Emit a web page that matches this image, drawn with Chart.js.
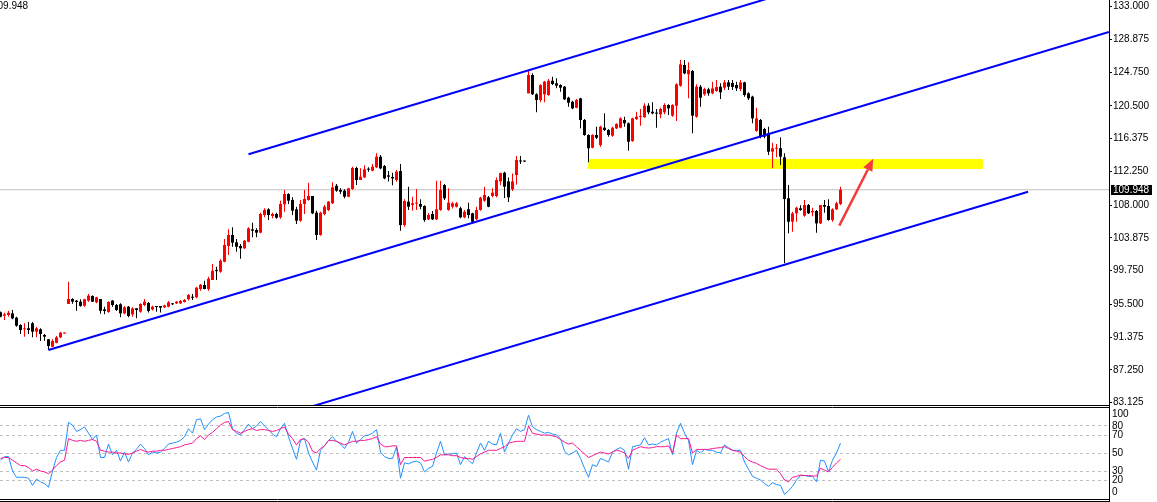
<!DOCTYPE html>
<html>
<head>
<meta charset="utf-8">
<script src="https://cdn.jsdelivr.net/npm/chart.js@4.4.1/dist/chart.umd.min.js"></script>
<style>
  html, body { margin: 0; padding: 0; background: #fff; overflow: hidden; }
  #wrap { position: relative; width: 1157px; height: 502px; }
  #main { position: absolute; left: 0; top: 0; }
  #osc { position: absolute; left: 0; top: 405px; }
</style>
</head>
<body>
<div id="wrap">
  <canvas id="main" width="1157" height="405"></canvas>
  <canvas id="osc" width="1157" height="97"></canvas>
</div>
<script>
// * Candle data (one entry per bar, oldest first)
const OPEN = [
  94.51, 94.08, 94.17, 94.38, 93.83, 92.91, 92.37, 92.50, 93.13, 92.07,
  92.37, 91.65, 91.11, 90.18, 90.68, 91.36, 91.85, 95.56, 96.19, 95.98,
  95.85, 95.35, 95.98, 96.56, 95.77, 96.19, 94.88, 94.54, 95.98, 95.43,
  95.52, 94.38, 95.22, 94.25, 95.01, 94.59, 95.43, 95.68, 94.88, 95.26,
  95.31, 95.14, 95.22, 95.56, 95.64, 95.64, 95.81, 96.15, 96.45, 96.40,
  97.44, 97.95, 97.44, 98.58, 99.80, 99.62, 100.88, 102.86, 104.25, 103.32,
  102.86, 102.57, 103.40, 104.96, 104.88, 104.54, 106.77, 107.48, 106.64, 106.89,
  106.47, 108.11, 109.41, 108.66, 107.48, 106.05, 108.15, 108.66, 109.16, 107.06,
  104.25, 106.89, 107.39, 108.24, 110.45, 109.92, 109.83, 109.07, 110.04, 112.68,
  111.17, 111.51, 112.56, 112.35, 112.77, 114.11, 112.93, 111.76, 111.55, 111.17,
  112.31, 105.50, 108.44, 108.02, 108.20, 108.15, 107.90, 106.22, 106.89, 106.22,
  107.40, 110.54, 107.40, 107.81, 107.81, 107.61, 106.47, 107.48, 106.98, 106.22,
  107.40, 108.57, 108.99, 109.16, 109.16, 111.00, 112.09, 111.00, 110.00, 111.80,
  113.62, 113.58, 122.09, 124.40, 121.97, 121.25, 121.97, 121.88, 123.68, 123.35,
  123.14, 122.93, 121.54, 121.03, 120.28, 121.46, 118.73, 116.84, 115.24, 116.84,
  115.58, 117.76, 117.47, 116.75, 117.68, 117.76, 118.73, 118.32, 116.08, 118.86,
  119.11, 119.07, 120.53, 119.78, 119.61, 119.44, 119.70, 120.62, 119.28, 120.53,
  123.05, 125.66, 124.49, 124.90, 119.15, 122.93, 121.97, 122.59, 122.09, 122.38,
  122.93, 122.80, 123.47, 123.40, 123.14, 122.63, 123.47, 122.09, 121.67, 117.35,
  118.73, 117.60, 117.05, 114.74, 115.12, 115.17, 114.03, 108.87, 105.92, 106.98,
  107.61, 106.68, 108.02, 107.10, 107.27, 105.71, 108.02, 107.90, 106.14, 107.48,
  108.15
];
const HIGH = [
  94.60, 94.46, 94.71, 94.80, 93.96, 93.00, 93.13, 93.29, 93.29, 92.70,
  92.50, 91.78, 91.15, 91.11, 91.53, 92.07, 91.95, 98.37, 96.27, 96.06,
  96.15, 96.23, 96.82, 96.65, 96.48, 96.19, 95.22, 95.90, 96.06, 95.56,
  95.64, 95.31, 95.31, 95.14, 95.05, 95.64, 96.19, 95.81, 95.35, 95.31,
  95.31, 95.47, 95.93, 95.64, 95.93, 96.06, 96.19, 96.82, 96.82, 97.74,
  98.07, 98.49, 98.99, 100.59, 100.25, 101.18, 103.74, 104.96, 105.22, 103.74,
  103.11, 103.61, 105.22, 105.80, 105.09, 107.06, 107.61, 107.61, 107.06, 107.06,
  108.57, 109.92, 109.50, 108.99, 107.81, 108.66, 109.92, 110.83, 109.16, 107.31,
  107.18, 108.02, 108.53, 110.88, 110.66, 110.12, 110.00, 110.20, 112.85, 112.85,
  112.64, 113.02, 112.77, 113.19, 114.53, 114.32, 113.06, 112.30, 112.10, 112.43,
  113.19, 108.74, 110.33, 109.07, 110.04, 108.74, 107.98, 107.02, 107.27, 111.08,
  111.08, 110.66, 110.12, 108.45, 108.40, 107.81, 107.40, 108.32, 107.06, 107.81,
  109.07, 110.33, 109.16, 110.12, 111.50, 112.10, 112.20, 111.50, 112.00, 114.20,
  114.20, 113.60, 125.03, 124.61, 122.09, 123.22, 123.64, 123.89, 124.19, 123.98,
  123.22, 123.01, 121.66, 121.16, 121.37, 121.54, 118.86, 116.93, 116.93, 117.89,
  118.01, 119.57, 117.60, 117.89, 118.32, 119.07, 119.15, 118.40, 119.02, 119.78,
  120.12, 120.83, 120.83, 120.96, 120.12, 120.28, 120.83, 120.70, 120.70, 123.35,
  126.29, 126.29, 125.99, 125.03, 123.22, 123.14, 122.80, 122.80, 123.56, 123.77,
  123.35, 123.77, 123.77, 123.77, 123.56, 123.77, 123.56, 122.22, 121.80, 120.28,
  118.86, 117.76, 117.89, 115.87, 115.70, 116.55, 114.53, 110.54, 107.18, 107.81,
  108.00, 108.66, 108.15, 107.69, 107.40, 108.02, 108.66, 108.74, 107.61, 108.44,
  110.33
];
const LOW = [
  93.90, 93.54, 93.96, 93.63, 92.70, 91.78, 91.44, 91.78, 91.36, 91.36,
  90.90, 90.94, 89.76, 90.10, 90.60, 91.27, 91.80, 95.56, 95.60, 94.71,
  95.22, 95.22, 95.85, 95.81, 95.64, 94.33, 94.25, 94.46, 95.22, 94.67,
  93.88, 94.25, 93.88, 93.96, 93.75, 94.46, 95.31, 94.50, 94.75, 94.59,
  94.50, 95.05, 95.14, 95.43, 95.56, 95.56, 95.73, 96.00, 96.06, 96.27,
  97.23, 97.40, 97.23, 98.58, 98.58, 99.50, 100.81, 101.73, 102.77, 102.14,
  101.26, 102.48, 103.32, 103.95, 103.95, 104.46, 106.47, 106.14, 106.35, 106.30,
  106.30, 107.18, 108.15, 106.77, 105.63, 105.92, 106.89, 108.57, 106.89, 103.62,
  104.16, 106.72, 107.27, 108.15, 109.70, 109.41, 108.87, 108.99, 109.95, 110.54,
  111.17, 111.42, 112.22, 112.27, 112.68, 112.52, 111.26, 111.00, 110.50, 110.96,
  104.79, 105.29, 107.40, 107.31, 107.40, 107.48, 105.92, 106.14, 106.14, 106.14,
  107.31, 108.66, 107.31, 107.60, 107.70, 106.35, 106.35, 106.35, 105.63, 106.14,
  107.31, 108.44, 107.73, 108.99, 109.00, 110.50, 108.90, 108.40, 109.80, 110.60,
  113.20, 113.45, 122.09, 121.88, 119.70, 120.96, 120.96, 121.80, 123.14, 122.72,
  122.30, 121.25, 120.40, 120.07, 120.20, 117.68, 116.75, 113.40, 115.17, 116.33,
  115.37, 117.35, 116.63, 116.63, 117.60, 117.68, 117.89, 114.86, 115.99, 118.73,
  118.02, 119.02, 119.44, 119.44, 117.76, 118.94, 119.44, 119.36, 119.15, 118.60,
  122.93, 124.49, 121.46, 117.05, 119.02, 120.40, 121.80, 121.80, 121.97, 122.30,
  121.38, 122.51, 122.51, 122.51, 122.38, 122.38, 121.67, 121.25, 118.32, 117.26,
  116.42, 116.42, 114.32, 112.64, 114.03, 113.06, 100.68, 104.46, 104.67, 105.92,
  107.31, 106.55, 106.89, 106.60, 104.54, 105.63, 107.06, 106.05, 105.92, 107.40,
  108.02
];
const CLOSE = [
  93.96, 94.26, 94.46, 93.75, 92.82, 92.28, 92.50, 92.28, 92.07, 92.50,
  91.78, 91.44, 90.27, 90.90, 91.36, 91.95, 91.90, 96.19, 95.85, 95.81,
  95.31, 96.15, 96.61, 95.85, 96.40, 94.71, 94.67, 95.81, 95.43, 94.80,
  94.38, 95.14, 94.04, 95.01, 94.80, 95.56, 95.85, 94.67, 95.22, 95.18,
  95.10, 95.39, 95.77, 95.52, 95.85, 95.93, 96.06, 96.69, 96.35, 97.61,
  97.99, 97.44, 98.74, 99.75, 99.70, 101.01, 102.99, 104.25, 103.28, 102.77,
  102.57, 103.53, 105.09, 104.79, 104.54, 106.89, 107.40, 106.77, 106.89, 106.43,
  108.15, 109.41, 108.57, 107.31, 106.05, 108.15, 108.78, 109.16, 106.98, 104.25,
  107.06, 107.81, 108.44, 110.25, 109.83, 109.70, 109.07, 110.12, 112.68, 111.17,
  111.59, 112.52, 112.47, 112.85, 114.11, 112.64, 111.38, 111.59, 111.38, 112.22,
  105.50, 108.53, 107.81, 108.24, 108.28, 107.81, 106.14, 106.77, 106.22, 107.48,
  109.92, 108.87, 108.32, 108.24, 108.24, 106.47, 107.18, 106.77, 105.92, 107.39,
  108.95, 109.29, 107.81, 109.58, 111.17, 112.05, 110.33, 108.99, 111.00, 113.69,
  113.50, 113.50, 124.40, 121.97, 121.25, 123.14, 123.56, 123.68, 123.26, 123.05,
  122.80, 121.33, 120.91, 120.20, 121.25, 118.73, 116.84, 115.17, 116.84, 116.50,
  117.89, 117.47, 116.84, 117.76, 118.23, 118.94, 118.32, 115.99, 118.94, 119.15,
  119.24, 120.53, 119.70, 119.57, 119.53, 120.12, 120.62, 120.20, 120.62, 123.22,
  125.74, 124.61, 125.03, 119.28, 122.93, 121.54, 122.63, 122.09, 122.72, 122.88,
  122.22, 123.47, 122.93, 122.90, 122.72, 123.47, 121.88, 121.46, 118.94, 118.94,
  116.63, 116.63, 114.74, 115.17, 115.20, 114.11, 108.78, 105.92, 106.98, 107.69,
  107.40, 108.02, 106.98, 107.27, 105.71, 108.02, 107.81, 106.14, 107.48, 108.24,
  109.948
];

// * Oscillator (fast = blue, slow = pink)
const OSC_FAST = [
  42, 46, 46, 30, 23, 23, 23, 22, 14, 21,
  18, 16, 12, 30, 45, 53, 53, 84, 81, 74,
  76, 79, 72, 65, 70, 45, 45, 60, 48, 53,
  41, 51, 40, 50, 54, 60, 55, 48, 51, 50,
  51, 55, 60, 61, 62, 64, 68, 77, 72, 87,
  88, 76, 82, 87, 90, 91, 94, 95, 77, 72,
  70, 76, 82, 77, 80, 85, 80, 76, 71, 68,
  77, 83, 68, 55, 43, 64, 66, 50, 40, 31,
  53, 58, 64, 68, 63, 60, 55, 62, 74, 61,
  65, 69, 70, 72, 76, 51, 46, 44, 44, 57,
  22, 39, 38, 40, 41, 39, 29, 33, 35, 50,
  63, 48, 49, 49, 50, 37, 46, 42, 38, 50,
  61, 53, 63, 60, 59, 72, 51, 61, 70, 77,
  74, 76, 92, 79, 76, 74, 72, 73, 71, 70,
  66, 52, 48, 50, 53, 44, 33, 23, 37, 35,
  44, 42, 40, 51, 54, 56, 53, 32, 57, 58,
  59, 67, 59, 60, 59, 62, 64, 66, 48, 72,
  83, 72, 64, 37, 53, 50, 54, 53, 53, 51,
  50, 59, 56, 53, 53, 53, 40, 32, 24, 22,
  20, 16, 13, 17, 15, 14, 4, 8, 13, 20,
  25, 25, 24, 24, 18, 42, 41, 29, 42, 50,
  61
];
const OSC_SLOW = [
  44, 45, 45, 42, 39, 36, 36, 34, 30, 32,
  30, 29, 27, 31, 36, 40, 42, 66, 64, 63,
  64, 63, 64, 65, 63, 53, 52, 51, 51, 50,
  50, 49, 48.5, 50, 52, 54, 52, 51, 52, 52,
  53, 53, 54, 55, 56, 57, 59, 60, 61, 66,
  69, 65, 70, 73, 77, 81, 84, 85, 76, 74,
  72, 74, 76, 77, 75, 76, 76, 75, 74, 75,
  77, 79, 71, 66, 59, 65, 66, 62, 52, 50,
  55, 58, 64, 64, 63, 61, 59, 61, 63, 63,
  64, 64, 65, 66, 68, 60, 57, 57, 58, 58,
  37, 45, 45, 45, 45, 45, 41, 42, 43, 45,
  48, 48, 48, 47, 47, 45, 44, 44, 43, 46,
  49, 51, 53, 53, 53, 55, 57, 61, 62, 63,
  63, 63, 80, 72, 71, 70, 70, 70, 69, 68,
  65, 62, 60, 61, 57, 53, 49, 45, 47, 49,
  51, 50, 49, 51, 53, 52, 50, 44, 53, 55,
  57, 56, 55.5, 56, 57, 57, 57, 58, 50, 70,
  66, 66, 66, 50, 54, 54, 54, 54, 55, 55.5,
  56, 57, 55, 53, 52, 51, 46, 42, 40, 38.5,
  36, 34, 32, 32, 32, 27, 20, 18, 23, 24,
  25.5, 25, 25, 24.5, 24.4, 33, 31, 29, 34, 39,
  43
];

// * Axis labels
const PRICE_TICKS = [83.125, 87.25, 91.375, 95.5, 99.75, 103.875, 108, 112.25, 116.375, 120.5, 124.75, 128.875, 133];
const OSC_LEVELS = [0, 20, 30, 50, 70, 80, 100];
const LAST_PRICE = 109.948;

// * Drawn objects, as [bar index, price]
const CHANNEL_LOW = [[12, 89.76], [277.1, 129.82]];
const CHANNEL_HIGH = [[62, 114.41], [277.1, 146.91]];
const CHANNEL_BOTTOM = [[77.6, 82.62], [256.9, 109.70]];
const ZONE = { from: 146.9, to: 245.6, low: 112.56, high: 113.82 };
const ARROW = [[209.7, 105.42], [218.2, 113.85]];

// * View range
const X_MIN = -0.125, X_MAX = 277.125;
const Y_MIN = 82.836, Y_MAX = 133.844;

Chart.defaults.font.family = 'Liberation Sans';
Chart.defaults.font.size = 10;
Chart.defaults.color = '#000';

const UP = '#FF0000', DOWN = '#000000';
const candleColors = OPEN.map((o, i) => CLOSE[i] > o ? UP : DOWN);
const toPoints = seg => seg.map(p => ({ x: p[0], y: p[1] }));

const lineSet = (seg, color, width) => ({
    type: 'line', data: toPoints(seg), borderColor: color, borderWidth: width,
    pointRadius: 0, tension: 0, fill: false
});

// * Main price window
const zonePlugin = {
    id: 'zone',
    beforeDatasetsDraw(chart) {
        const { ctx, scales: { x, y } } = chart;
        const x0 = x.getPixelForValue(ZONE.from), x1 = x.getPixelForValue(ZONE.to);
        const y0 = y.getPixelForValue(ZONE.high), y1 = y.getPixelForValue(ZONE.low);
        ctx.save();
        ctx.fillStyle = '#FFFF00';
        ctx.fillRect(x0, y0, x1 - x0, y1 - y0);
        ctx.restore();
    }
};

const arrowPlugin = {
    id: 'arrow',
    afterDatasetsDraw(chart) {
        const { ctx, scales: { x, y } } = chart;
        const ax = x.getPixelForValue(ARROW[0][0]), ay = y.getPixelForValue(ARROW[0][1]);
        const bx = x.getPixelForValue(ARROW[1][0]), by = y.getPixelForValue(ARROW[1][1]);
        const ang = Math.atan2(by - ay, bx - ax);
        const head = 12, half = 5;
        const hx = bx - head * Math.cos(ang), hy = by - head * Math.sin(ang);
        ctx.save();
        ctx.strokeStyle = '#F23C3C';
        ctx.fillStyle = '#F23C3C';
        ctx.lineWidth = 2.5;
        ctx.beginPath();
        ctx.moveTo(ax, ay);
        ctx.lineTo(hx, hy);
        ctx.stroke();
        ctx.beginPath();
        ctx.moveTo(bx, by);
        ctx.lineTo(hx + half * Math.sin(ang), hy - half * Math.cos(ang));
        ctx.lineTo(hx - half * Math.sin(ang), hy + half * Math.cos(ang));
        ctx.closePath();
        ctx.fill();
        ctx.restore();
    }
};

const priceTagPlugin = {
    id: 'priceTag',
    afterDraw(chart) {
        const { ctx, scales: { y } } = chart;
        const py = Math.round(y.getPixelForValue(LAST_PRICE));
        ctx.save();
        ctx.fillStyle = '#000';
        ctx.fillRect(y.left + 2, py - 5, 41, 10);
        ctx.fillStyle = '#fff';
        ctx.font = '10px "Liberation Sans"';
        ctx.textBaseline = 'middle';
        ctx.fillText(LAST_PRICE.toFixed(3), y.left + 4, py + 0.5);
        // window info text, partly scrolled off the left edge
        ctx.fillStyle = '#000';
        ctx.textBaseline = 'alphabetic';
        ctx.fillText(LAST_PRICE.toFixed(3), -8, 9);
        ctx.restore();
    }
};

const mainChart = new Chart(document.getElementById('main'), {
    type: 'bar',
    data: {
        datasets: [
            lineSet(CHANNEL_LOW, '#0000FF', 2),
            lineSet(CHANNEL_HIGH, '#0000FF', 2),
            lineSet(CHANNEL_BOTTOM, '#0000FF', 2),
            {
                // candle bodies
                data: OPEN.map((o, i) => ({ x: i, y: [o, CLOSE[i]] })),
                backgroundColor: candleColors, barThickness: 3, minBarLength: 1,
                grouped: false, inflateAmount: 0, borderWidth: 0
            },
            {
                // candle wicks
                data: OPEN.map((o, i) => ({ x: i, y: [LOW[i], HIGH[i]] })),
                backgroundColor: candleColors, barThickness: 1, minBarLength: 1,
                grouped: false, inflateAmount: 0, borderWidth: 0
            },
            lineSet([[X_MIN, LAST_PRICE], [X_MAX, LAST_PRICE]], '#C0C0C0', 1)
        ]
    },
    options: {
        responsive: false,
        animation: false,
        devicePixelRatio: 1,
        events: [],
        layout: { padding: 0 },
        plugins: { legend: { display: false }, tooltip: { enabled: false } },
        scales: {
            x: { type: 'linear', min: X_MIN, max: X_MAX, offset: false, display: false },
            y: {
                position: 'right', min: Y_MIN, max: Y_MAX,
                afterBuildTicks: s => { s.ticks = PRICE_TICKS.map(v => ({ value: v })); },
                afterFit: s => { s.width = 48; s.paddingTop = 0; s.paddingBottom = 0; },
                ticks: { padding: 1, autoSkip: false, color: '#000', callback: v => Number(v).toFixed(3) },
                grid: { drawOnChartArea: false, drawTicks: true, tickLength: 3, color: '#000' },
                border: { display: true, color: '#000', width: 1 }
            }
        }
    },
    plugins: [zonePlugin, arrowPlugin, priceTagPlugin]
});

// * Oscillator window
const oscFramePlugin = {
    id: 'oscFrame',
    afterDraw(chart) {
        const { ctx, chartArea: a, scales: { y } } = chart;
        ctx.save();
        ctx.strokeStyle = '#000';
        ctx.lineWidth = 1;
        ctx.beginPath();
        [a.top - 2.5, a.top - 0.5, a.bottom + 1.5, a.bottom + 3.5].forEach(v => {
            ctx.moveTo(0, v); ctx.lineTo(a.right + 1, v);
        });
        ctx.moveTo(a.right + 0.5, 0); ctx.lineTo(a.right + 0.5, chart.height);
        ctx.stroke();
        // level labels, kept inside the window like the terminal does
        ctx.fillStyle = '#000';
        ctx.font = '10px "Liberation Sans"';
        ctx.textBaseline = 'middle';
        OSC_LEVELS.forEach(v => {
            const py = Math.min(Math.max(y.getPixelForValue(v), a.top + 6), a.bottom - 6);
            ctx.fillText(String(v), y.left + 3, py + 0.5);
        });
        ctx.restore();
    }
};

const oscChart = new Chart(document.getElementById('osc'), {
    type: 'line',
    data: {
        datasets: [
            { data: OSC_SLOW.map((v, i) => ({ x: i, y: v })), borderColor: '#FF1493', borderWidth: 1, pointRadius: 0, tension: 0 },
            { data: OSC_FAST.map((v, i) => ({ x: i, y: v })), borderColor: '#1E90FF', borderWidth: 1, pointRadius: 0, tension: 0 }
        ]
    },
    options: {
        responsive: false,
        animation: false,
        devicePixelRatio: 1,
        events: [],
        layout: { padding: { top: 3, bottom: 4, left: 0, right: 0 } },
        plugins: { legend: { display: false }, tooltip: { enabled: false } },
        scales: {
            x: { type: 'linear', min: X_MIN, max: X_MAX, offset: false, display: false },
            y: {
                position: 'right', min: 0, max: 100,
                afterBuildTicks: s => { s.ticks = OSC_LEVELS.map(v => ({ value: v })); },
                afterFit: s => { s.width = 48; s.paddingTop = 0; s.paddingBottom = 0; },
                ticks: { display: false },
                grid: {
                    drawTicks: false, lineWidth: 1,
                    color: c => (c.tick && (c.tick.value === 0 || c.tick.value === 100)) ? 'rgba(0,0,0,0)' : '#C0C0C0'
                },
                border: { display: false, dash: [3, 3] }
            }
        }
    },
    plugins: [oscFramePlugin]
});
</script>
</body>
</html>
